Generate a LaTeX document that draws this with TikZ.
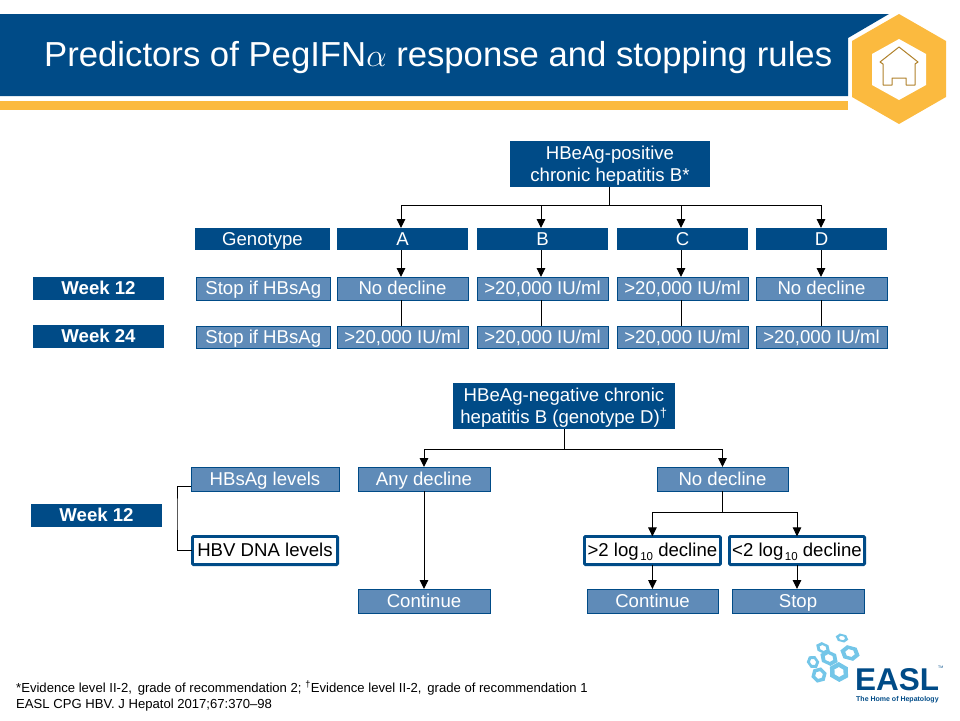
\documentclass[tikz,border=0pt]{standalone}
\usepackage{fontspec}
\setmainfont{Liberation Sans}
\usetikzlibrary{arrows.meta,calc}
\definecolor{navy}{HTML}{004B87}
\definecolor{steel}{HTML}{5F8BB8}
\definecolor{gold}{HTML}{FBBA3F}
\definecolor{sky}{HTML}{74C6E8}
\newcommand\bx[7]{\node[#6,minimum width={(#4)-(#2)},minimum height={(#5)-(#3)}] (#1) at ({((#2)+(#4))/2},{((#3)+(#5))/2}) {#7};}
% x, y, half width, half height, hole ratio, rotation
\newcommand\hexring[6]{\begin{scope}[shift={(#1,#2)},rotate=#6,xscale=#3,yscale=#4]
  \fill[sky,even odd rule] (-1,0) -- (-0.5,-1) -- (0.5,-1) -- (1,0) -- (0.5,1) -- (-0.5,1) -- cycle
  (-#5,0) -- (-0.5*#5,-#5) -- (0.5*#5,-#5) -- (#5,0) -- (0.5*#5,#5) -- (-0.5*#5,#5) -- cycle;
  \end{scope}}
\newcommand\logsub{log\hspace{1.5pt}\raisebox{-3.5pt}{\fontsize{11.5}{12}\selectfont 10}}
\newcommand\firstline{\rule{0pt}{17.5pt}}
\tikzset{
  x=1pt,y=-1pt,
  basebox/.style={inner sep=0pt,outer sep=0pt,align=center,font=\fontsize{18.6}{22}\selectfont,text=white},
  single/.style={text height=13pt,text depth=1pt},
  darkbox/.style={basebox,fill=navy},
  weekbox/.style={darkbox,single,font=\fontsize{18.6}{22}\bfseries\selectfont},
  midbox/.style={basebox,single,fill=steel,draw=navy,line width=0.9pt},
  whitebox/.style={basebox,single,text=black,fill=white,draw=navy,line width=2.8pt,rounded corners=1pt},
  arr/.style={-{Triangle[length=9pt,width=8.5pt]},line width=1pt,black},
  lin/.style={line width=1pt,black},
  foot/.style={inner sep=0pt,anchor=base west,font=\fontsize{13.1}{15}\selectfont,text=black}
}
\begin{document}
\begin{tikzpicture}
\useasboundingbox (0,0) rectangle (960,720);
% header
\fill[navy] (0,14) -- (889,14) -- (848,38) -- (848,96) -- (0,96) -- cycle;
\fill[gold] (0,101) rectangle (848,110);
\fill[gold] (899,14) -- (946,41) -- (946,97) -- (899,124) -- (852,97) -- (852,41) -- cycle;
\fill[white] (899,39) -- (926,54) -- (926,85) -- (899,100) -- (872,85) -- (872,54) -- cycle;
\draw[gold!70!black,line width=1pt,line join=round] (880,62) -- (899,47) -- (918,62) -- (915,64) -- (915,85) -- (906,85) -- (906,78) -- (892,78) -- (892,85) -- (883,85) -- (883,64) -- cycle;
\node[anchor=base west,inner sep=0pt,text=white,font=\fontsize{34.7}{38}\selectfont] (title) at (44,66) {Predictors of PegIFN\scalebox{1.3}{$\alpha$} response and stopping rules};
% upper tree
\bx{pos}{510}{141}{710}{187}{darkbox}{\firstline HBeAg-positive\\chronic hepatitis B*}
\bx{geno}{195}{228}{330}{250}{darkbox,single}{Genotype}
\bx{ga}{337}{228}{468}{250}{darkbox,single}{A}
\bx{gb}{477}{228}{608}{250}{darkbox,single}{B}
\bx{gc}{617}{228}{748}{250}{darkbox,single}{C}
\bx{gd}{756}{228}{887}{250}{darkbox,single}{D}
\bx{wa}{33}{277}{164}{300}{weekbox}{Week 12}
\bx{sa}{196}{277}{330.5}{300}{midbox}{Stop if HBsAg}
\bx{a1}{337}{277}{468}{300}{midbox}{No decline}
\bx{b1}{477}{277}{608}{300}{midbox}{>20,000 IU/ml}
\bx{c1}{617}{277}{748}{300}{midbox}{>20,000 IU/ml}
\bx{d1}{756}{277}{887}{300}{midbox}{No decline}
\bx{wb}{33}{325}{164}{348}{weekbox}{Week 24}
\bx{sb}{196}{326}{330.5}{348}{midbox}{Stop if HBsAg}
\bx{a2}{337}{326}{468}{348}{midbox}{>20,000 IU/ml}
\bx{b2}{477}{326}{608}{348}{midbox}{>20,000 IU/ml}
\bx{c2}{617}{326}{748}{348}{midbox}{>20,000 IU/ml}
\bx{d2}{756}{326}{887}{348}{midbox}{>20,000 IU/ml}
\coordinate (j1) at (609,205);
\draw[lin] ([xshift=-1pt]pos.south) -- (j1);
\foreach \n/\s in {ga/-1.5,gb/-1.5,gc/-1.5,gd/-0.5}{
  \draw[arr] (j1) -| ([xshift=\s pt]\n.north);
}
\foreach \n/\m/\s in {ga/a1/-1.5,gb/b1/-1.5,gc/c1/-1.5,gd/d1/-0.5}{
  \draw[arr] ([xshift=\s pt]\n.south) -- ([xshift=\s pt]\m.north);
}
\foreach \n/\m/\s in {a1/a2/-1.5,b1/b2/-1.5,c1/c2/-1.5,d1/d2/-0.5}{
  \draw[lin] ([xshift=\s pt]\n.south) -- ([xshift=\s pt]\m.north);
}
% lower tree
\bx{neg}{453}{383}{675}{429}{darkbox}{\firstline HBeAg-negative chronic\\hepatitis B (genotype D)\textsuperscript{†}}
\bx{hbs}{191}{467}{339}{491}{midbox}{HBsAg levels}
\bx{any}{358}{467}{490}{491}{midbox}{Any decline}
\bx{nod}{657}{467}{788}{491}{midbox}{No decline}
\bx{wc}{31}{504}{162}{527}{weekbox}{Week 12}
\bx{dna}{192.4}{536.4}{337.6}{564.6}{whitebox}{HBV DNA levels}
\bx{gt}{584.4}{536.4}{720.4}{564.6}{whitebox}{>2 \logsub{} decline}
\bx{lt}{729.4}{536.4}{864.6}{564.6}{whitebox}{<2 \logsub{} decline}
\bx{cont}{358}{589}{490}{613}{midbox}{Continue}
\bx{conb}{587}{589}{718}{613}{midbox}{Continue}
\bx{stp}{732}{589}{864}{613}{midbox}{Stop}
\coordinate (j2) at (564,449);
\draw[lin] (neg.south) -- (j2);
\draw[arr] (j2) -| (any.north);
\draw[arr] (j2) -| (nod.north);
\draw[arr] (any.south) -- (cont.north);
\coordinate (j3) at (nod.south |- 0,512);
\draw[lin] (nod.south) -- (j3);
\draw[arr] (j3) -| (gt.north);
\draw[arr] (j3) -| (lt.north);
\draw[arr] (gt.south) -- (gt.south |- conb.north);
\draw[arr] (lt.south) -- (lt.south |- stp.north);
\coordinate (bk) at (177,510);
\draw[lin] ([yshift=-7.5pt]hbs.west) -| (bk) |- (dna.west);
% footer
\node[foot] (f1) at (16,692) {*Evidence level II-2,\, grade of recommendation 2; \textsuperscript{†}Evidence level II-2,\, grade of recommendation 1};
\node[foot] (f2) at (16,708) {EASL CPG HBV. J Hepatol 2017;67:370–98};
% logo
\hexring{842}{638}{6.5}{3.8}{0.5}{-15}
\hexring{823}{648}{7.5}{4.8}{0.5}{-25}
\hexring{850}{653}{10}{6.8}{0.5}{-15}
\hexring{829}{658}{9.5}{6.5}{0.5}{-25}
\hexring{813}{662}{7}{5.2}{0.5}{-55}
\hexring{839}{672}{10.5}{8.5}{0.5}{-30}
\hexring{819}{675}{8}{6.8}{0.5}{-45}
\node[anchor=base west,inner sep=0pt,text=navy,font=\fontsize{31.5}{32}\bfseries\selectfont] (easl) at (855,690.5) {EASL};
\node[anchor=base west,inner sep=0pt,text=navy,font=\fontsize{3.5}{4}\selectfont] (tm) at (938,668) {TM};
\node[anchor=base west,inner sep=0pt,text=navy,font=\fontsize{7}{8}\bfseries\selectfont] (tag) at (856,701.5) {The Home of Hepatology};
\end{tikzpicture}
\end{document}
